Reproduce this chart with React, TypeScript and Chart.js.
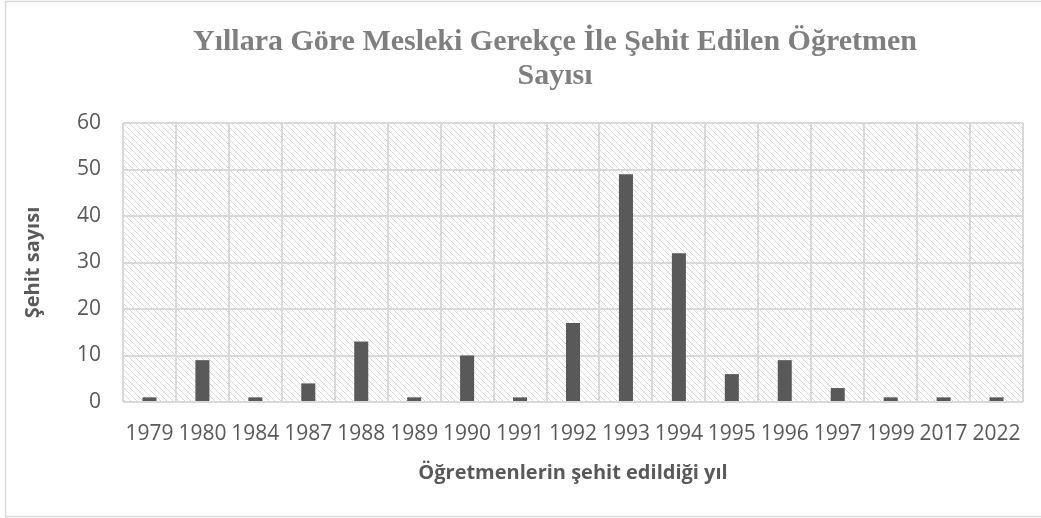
import { useEffect, useRef } from "react";
import { Chart, registerables } from "chart.js";

Chart.register(...registerables);

const years = ["1979", "1980", "1984", "1987", "1988", "1989", "1990", "1991", "1992", "1993", "1994", "1995", "1996", "1997", "1999", "2017", "2022"];
const counts = [1, 9, 1, 4, 13, 1, 10, 1, 17, 49, 32, 6, 9, 3, 1, 1, 1];
const yTicks = [0, 10, 20, 30, 40, 50, 60];
const titleLines = ["Yıllara Göre Mesleki Gerekçe İle Şehit Edilen Öğretmen", "Sayısı"];
const xTitle = "Öğretmenlerin şehit edildiği yıl";
const yTitle = "Şehit sayısı";

const W = 1041;
const H = 518;

function makePattern(ctx: CanvasRenderingContext2D): CanvasPattern | string {
  const s = 6;
  const c = document.createElement("canvas");
  c.width = s;
  c.height = s;
  const p = c.getContext("2d");
  if (!p) return "#ffffff";
  p.fillStyle = "#ffffff";
  p.fillRect(0, 0, s, s);
  p.strokeStyle = "#d9d9d9";
  p.lineWidth = 1;
  p.beginPath();
  p.moveTo(-1, -1);
  p.lineTo(s + 1, s + 1);
  p.moveTo(-1, s - 1);
  p.lineTo(1, s + 1);
  p.moveTo(s - 1, -1);
  p.lineTo(s + 1, 1);
  p.stroke();
  return ctx.createPattern(c, "repeat") || "#ffffff";
}

const decorPlugin = {
  id: "decor",
  beforeDraw(chart: any) {
    const { ctx, chartArea } = chart;
    ctx.save();
    ctx.fillStyle = "#ffffff";
    ctx.fillRect(0, 0, W, H);
    ctx.strokeStyle = "#d9d9d9";
    ctx.lineWidth = 1.5;
    ctx.strokeRect(5.5, 1.5, W + 10, H - 3);
    ctx.fillStyle = makePattern(ctx);
    ctx.fillRect(chartArea.left, chartArea.top, chartArea.right - chartArea.left, chartArea.bottom - chartArea.top);
    ctx.restore();
  },
  afterDraw(chart: any) {
    const { ctx } = chart;
    ctx.save();
    ctx.fillStyle = "#7f7f7f";
    ctx.font = "bold 30px 'Liberation Serif'";
    ctx.textAlign = "center";
    ctx.textBaseline = "alphabetic";
    ctx.fillText(titleLines[0], 555, 50);
    ctx.fillText(titleLines[1], 555, 84);
    ctx.restore();
  },
};

export default function App() {
  const ref = useRef<HTMLCanvasElement | null>(null);

  useEffect(() => {
    document.body.style.margin = "0";
    const canvas = ref.current;
    if (!canvas) return;
    const chart = new Chart(canvas, {
      type: "bar",
      data: {
        labels: years,
        datasets: [
          {
            label: yTitle,
            data: counts,
            backgroundColor: "#595959",
            borderWidth: 0,
            categoryPercentage: 1,
            barPercentage: 0.265,
          },
        ],
      },
      options: {
        responsive: false,
        animation: false,
        devicePixelRatio: 1,
        layout: { padding: { left: 0, right: 18, top: 123, bottom: 0 } },
        plugins: {
          legend: { display: false },
          title: { display: false },
          tooltip: { enabled: false },
        },
        scales: {
          x: {
            afterFit: (s: any) => {
              s.height = H - 402;
            },
            grid: { color: "#d9d9d9", lineWidth: 2, drawTicks: false, offset: true },
            border: { display: false },
            ticks: {
              color: "#595959",
              padding: 19,
              maxRotation: 0,
              autoSkip: false,
              font: { family: "'Open Sans'", size: 21 },
            },
            title: {
              display: true,
              text: xTitle,
              color: "#595959",
              font: { family: "'Open Sans'", size: 20, weight: "bold" },
              padding: { top: 0, bottom: 33 },
            },
          },
          y: {
            min: 0,
            max: 60,
            afterFit: (s: any) => {
              s.width = 123;
            },
            afterBuildTicks: (s: any) => {
              s.ticks = yTicks.map((v) => ({ value: v }));
            },
            grid: { color: "#d9d9d9", lineWidth: 2, drawTicks: false },
            border: { display: false },
            ticks: {
              color: "#595959",
              padding: 22,
              font: { family: "'Open Sans'", size: 21 },
            },
            title: {
              display: true,
              text: yTitle,
              color: "#595959",
              font: { family: "'Open Sans'", size: 20, weight: "bold" },
              padding: { top: 21, bottom: 0 },
            },
          },
        },
      },
      plugins: [decorPlugin],
    });
    return () => chart.destroy();
  }, []);

  return (
    <div style={{ width: W, height: H }}>
      <canvas ref={ref} width={W} height={H} style={{ width: W, height: H, display: "block" }} />
    </div>
  );
}
